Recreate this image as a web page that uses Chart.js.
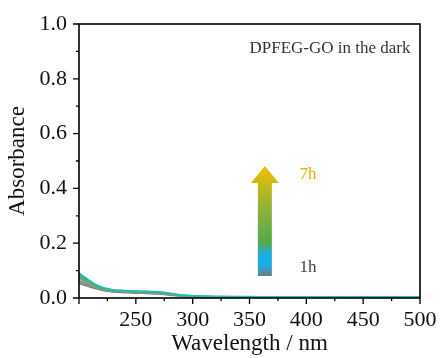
<!DOCTYPE html>
<html>
<head>
<meta charset="utf-8">
<script src="https://cdn.jsdelivr.net/npm/chart.js@4"></script>
<style>
  html, body { margin: 0; padding: 0; background: #fff; }
  #wrap { width: 440px; height: 358px; }
</style>
</head>
<body>
<div id="wrap"><canvas id="uvChart" width="440" height="358"></canvas></div>
<script>
const wavelengths = [200, 205, 210, 215, 220, 225, 230, 240, 250, 260, 270, 280, 290, 300, 310, 320, 340, 360, 380, 400, 420, 440, 460, 480, 500];
const hours = ['1h', '2h', '3h', '4h', '5h', '6h', '7h'];
const seriesColors = ['#80827f', '#5b8fbf', '#c49a52', '#4ba66c', '#86b044', '#2fb09c', '#27bcb6'];
const abs1h = [0.054, 0.047, 0.040, 0.034, 0.029, 0.025, 0.022, 0.020, 0.018, 0.017, 0.015, 0.011, 0.007, 0.005, 0.004, 0.003, 0.003, 0.003, 0.002, 0.002, 0.002, 0.002, 0.002, 0.002, 0.002];
const abs2h = [0.062, 0.053, 0.044, 0.037, 0.031, 0.027, 0.024, 0.022, 0.020, 0.019, 0.017, 0.012, 0.008, 0.006, 0.004, 0.004, 0.003, 0.003, 0.003, 0.003, 0.003, 0.002, 0.002, 0.002, 0.002];
const abs3h = [0.070, 0.059, 0.048, 0.040, 0.033, 0.028, 0.025, 0.023, 0.021, 0.020, 0.018, 0.013, 0.009, 0.006, 0.005, 0.004, 0.004, 0.003, 0.003, 0.003, 0.003, 0.003, 0.003, 0.003, 0.003];
const abs4h = [0.076, 0.064, 0.052, 0.042, 0.035, 0.030, 0.026, 0.024, 0.022, 0.021, 0.019, 0.014, 0.009, 0.007, 0.005, 0.004, 0.004, 0.004, 0.003, 0.003, 0.003, 0.003, 0.003, 0.003, 0.003];
const abs5h = [0.081, 0.068, 0.055, 0.044, 0.036, 0.031, 0.027, 0.025, 0.023, 0.022, 0.020, 0.015, 0.010, 0.007, 0.005, 0.005, 0.004, 0.004, 0.004, 0.003, 0.003, 0.003, 0.003, 0.003, 0.003];
const abs6h = [0.086, 0.072, 0.058, 0.046, 0.038, 0.032, 0.028, 0.026, 0.024, 0.023, 0.021, 0.016, 0.010, 0.007, 0.006, 0.005, 0.004, 0.004, 0.004, 0.004, 0.003, 0.003, 0.003, 0.003, 0.003];
const abs7h = [0.091, 0.076, 0.061, 0.048, 0.040, 0.034, 0.030, 0.027, 0.025, 0.024, 0.022, 0.017, 0.011, 0.008, 0.006, 0.005, 0.005, 0.004, 0.004, 0.004, 0.004, 0.003, 0.003, 0.003, 0.003];
const absSeries = [abs1h, abs2h, abs3h, abs4h, abs5h, abs6h, abs7h];
const xTickValues = [250, 300, 350, 400, 450, 500];
const yTickValues = [0.0, 0.2, 0.4, 0.6, 0.8, 1.0];

const serif = '"Liberation Serif", "DejaVu Serif", serif';

// frame, outward major/minor ticks, note text and gradient arrow
const decorPlugin = {
    id: 'decor',
    afterDraw(chart) {
        const { ctx, chartArea: a, scales } = chart;
        const x = scales.x, y = scales.y;
        ctx.save();
        ctx.strokeStyle = '#000';
        ctx.lineWidth = 1.6;
        ctx.strokeRect(a.left, a.top, a.right - a.left, a.bottom - a.top);
        ctx.lineWidth = 1.3;
        ctx.beginPath();
        for (let v = 200; v <= 500; v += 25) {
            const px = x.getPixelForValue(v);
            const len = v % 50 === 0 ? 6 : 3;
            ctx.moveTo(px, a.bottom);
            ctx.lineTo(px, a.bottom + len);
        }
        for (let i = 0; i <= 10; i++) {
            const py = y.getPixelForValue(i / 10);
            const len = i % 2 === 0 ? 6 : 3;
            ctx.moveTo(a.left, py);
            ctx.lineTo(a.left - len, py);
        }
        ctx.stroke();

        ctx.fillStyle = '#333';
        ctx.font = '17px ' + serif;
        ctx.textAlign = 'left';
        ctx.textBaseline = 'middle';
        ctx.fillText('DPFEG-GO in the dark', x.getPixelForValue(350), y.getPixelForValue(0.91));

        // arrow, placed in data coords
        const cx = x.getPixelForValue(363.5);
        const yTop = y.getPixelForValue(0.482);
        const yHead = y.getPixelForValue(0.42);
        const yBot = y.getPixelForValue(0.08);
        const g = ctx.createLinearGradient(0, yBot, 0, yTop);
        g.addColorStop(0, '#6f7b86');
        g.addColorStop(0.1, '#1aaee6');
        g.addColorStop(0.2, '#1aaee6');
        g.addColorStop(0.3, '#54a84a');
        g.addColorStop(0.6, '#8eb03a');
        g.addColorStop(1, '#f2c000');
        ctx.fillStyle = g;
        ctx.beginPath();
        ctx.moveTo(cx - 7, yBot);
        ctx.lineTo(cx + 7, yBot);
        ctx.lineTo(cx + 7, yHead);
        ctx.lineTo(cx + 14, yHead);
        ctx.lineTo(cx, yTop);
        ctx.lineTo(cx - 14, yHead);
        ctx.lineTo(cx - 7, yHead);
        ctx.closePath();
        ctx.fill();

        ctx.font = '17px ' + serif;
        ctx.fillStyle = '#e6ae00';
        ctx.fillText('7h', x.getPixelForValue(394), y.getPixelForValue(0.449));
        ctx.fillStyle = '#444';
        ctx.fillText('1h', x.getPixelForValue(394), y.getPixelForValue(0.113));
        ctx.restore();
    }
};

const datasets = absSeries.map((vals, i) => ({
    label: hours[i],
    data: wavelengths.map((w, j) => ({ x: w, y: vals[j] })),
    borderColor: seriesColors[i],
    borderWidth: 1.8,
    pointRadius: 0,
    tension: 0.3,
    fill: false,
    order: hours.length - i
}));

new Chart(document.getElementById('uvChart').getContext('2d'), {
    type: 'line',
    data: { datasets },
    options: {
        responsive: false,
        animation: false,
        layout: { padding: { top: 24, right: 20, left: 0, bottom: 0 } },
        plugins: { legend: { display: false }, tooltip: { enabled: false } },
        scales: {
            x: {
                type: 'linear',
                min: 200,
                max: 500,
                afterBuildTicks: s => { s.ticks = xTickValues.map(v => ({ value: v })); },
                afterFit: s => { s.height = 60; s.paddingLeft = 0; s.paddingRight = 0; },
                grid: { display: false, drawTicks: false },
                border: { display: false },
                ticks: { color: '#111', font: { family: serif, size: 22 }, padding: 9, maxRotation: 0 },
                title: { display: true, text: 'Wavelength / nm', color: '#111', font: { family: serif, size: 23 }, padding: { top: 0, bottom: 0 } }
            },
            y: {
                min: 0,
                max: 1,
                afterBuildTicks: s => { s.ticks = yTickValues.map(v => ({ value: v })); },
                afterFit: s => { s.width = 79; s.paddingTop = 0; s.paddingBottom = 0; },
                grid: { display: false, drawTicks: false },
                border: { display: false },
                ticks: { color: '#111', font: { family: serif, size: 22 }, padding: 12, callback: v => v.toFixed(1) },
                title: { display: true, text: 'Absorbance', color: '#111', font: { family: serif, size: 23 }, padding: { top: 4, bottom: 0 } }
            }
        }
    },
    plugins: [decorPlugin]
});
</script>
</body>
</html>
